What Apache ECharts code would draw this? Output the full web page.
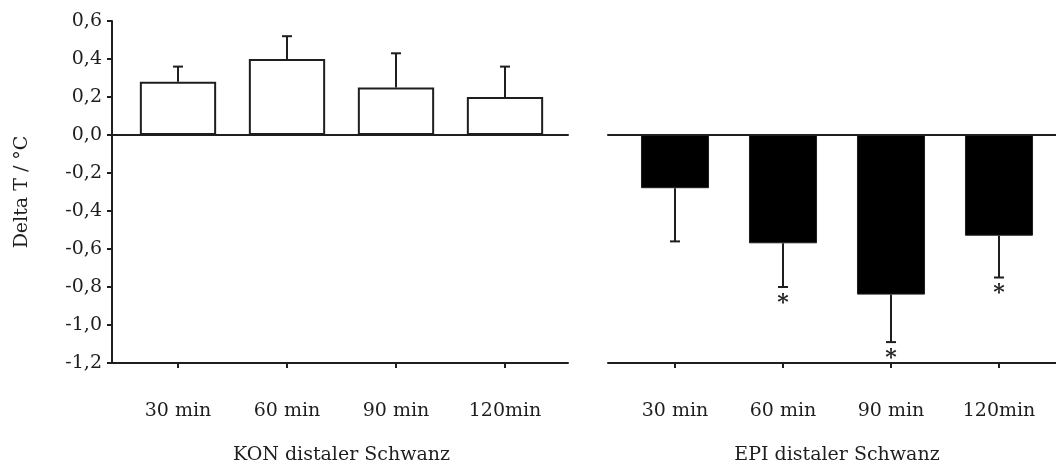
<!DOCTYPE html>
<html>
<head>
<meta charset="utf-8">
<script src="https://cdn.jsdelivr.net/npm/echarts@6/dist/echarts.min.js"></script>
<style>
  html, body { margin: 0; padding: 0; background: #fff; }
  #main { width: 1056px; height: 468px; }
</style>
</head>
<body>
<div id="main"></div>
<script>
// data
var categories = ['30 min', '60 min', '90 min', '120min'];
var konMean = [0.28, 0.40, 0.25, 0.20];
var konErr = [0.08, 0.12, 0.18, 0.16];
var epiMean = [-0.28, -0.57, -0.84, -0.53];
var epiErr = [0.28, 0.23, 0.25, 0.22];
var epiSig = [false, true, true, true];
var yTicks = [0.6, 0.4, 0.2, 0.0, -0.2, -0.4, -0.6, -0.8, -1.0, -1.2];

var ink = '#1e1e1e';
var font = 'DejaVu Serif';
var yMin = yTicks[yTicks.length - 1], yMax = yTicks[0];

function fmt(v) {
	return v.toFixed(1).replace('.', ',');
}

// error bar (+ optional asterisk) pointing away from zero
function errorBars(means, errs, sig) {
	return function (params, api) {
		var i = api.value(0);
		var m = means[i], e = errs[i];
		var base = api.coord([i, m]);
		var end = api.coord([i, m > 0 ? m + e : m - e]);
		var half = 5;
		var kids = [
			{ type: 'line', shape: { x1: base[0], y1: base[1], x2: end[0], y2: end[1] }, style: { stroke: ink, lineWidth: 2 } },
			{ type: 'line', shape: { x1: end[0] - half, y1: end[1], x2: end[0] + half, y2: end[1] }, style: { stroke: ink, lineWidth: 2 } }
		];
		if (sig && sig[i]) {
			kids.push({ type: 'text', x: end[0], y: end[1] + 5, style: { text: '*', fontFamily: font, fontSize: 22, fontWeight: 'bold', fill: ink, align: 'center', verticalAlign: 'top' } });
		}
		return { type: 'group', children: kids };
	};
}

var hiddenY = function (gi) {
	return { type: 'value', gridIndex: gi, min: yMin, max: yMax, interval: 0.2, show: false };
};

var catAxis = function (gi, name) {
	return {
		type: 'category', gridIndex: gi, data: categories, position: 'bottom',
		axisLine: { show: false, onZero: false },
		axisTick: { show: true, alignWithLabel: true, length: 5, lineStyle: { color: ink, width: 2 } },
		axisLabel: { color: ink, fontFamily: font, fontSize: 19, margin: 39 },
		name: name, nameLocation: 'middle', nameGap: 83,
		nameTextStyle: { color: ink, fontFamily: font, fontSize: 19 }
	};
};

var frameAxes = function (gi) {
	return [
		{ type: 'value', gridIndex: gi, min: 0, max: 1, position: 'bottom', axisLine: { show: true, onZero: false, lineStyle: { color: ink, width: 2 } }, axisTick: { show: false }, axisLabel: { show: false }, splitLine: { show: false } },
		{ type: 'value', gridIndex: gi, min: 0, max: 1, position: 'top', axisLine: { show: true, onZero: true, lineStyle: { color: ink, width: 2 } }, axisTick: { show: false }, axisLabel: { show: false }, splitLine: { show: false } }
	];
};

var grid = function (left, width) {
	return { left: left, width: width, top: 21, height: 342, outerBoundsMode: 'none', containLabel: false };
};

var chart = echarts.init(document.getElementById('main'));
chart.setOption({
	animation: false,
	backgroundColor: '#fff',
	grid: [
		grid(123.5, 436),   // KON bars
		grid(112, 456),     // KON frame
		grid(621, 432),     // EPI bars
		grid(608, 448)      // EPI frame
	],
	xAxis: [catAxis(0, 'KON distaler Schwanz')]
		.concat(frameAxes(1))
		.concat([catAxis(2, 'EPI distaler Schwanz')])
		.concat(frameAxes(3)),
	yAxis: [
		hiddenY(0),
		{
			type: 'value', gridIndex: 1, min: yMin, max: yMax, interval: 0.2,
			axisLine: { show: true, lineStyle: { color: ink, width: 2 } },
			axisTick: { show: true, length: 5, lineStyle: { color: ink, width: 2 } },
			axisLabel: { color: ink, fontFamily: font, fontSize: 19, margin: 10, formatter: fmt },
			splitLine: { show: false },
			name: 'Delta T / °C', nameLocation: 'middle', nameGap: 80,
			nameTextStyle: { color: ink, fontFamily: font, fontSize: 19 }
		},
		hiddenY(2),
		hiddenY(3)
	],
	series: [
		{
			type: 'bar', xAxisIndex: 0, yAxisIndex: 0, data: konMean, barWidth: '70%',
			itemStyle: { color: '#fff', borderColor: ink, borderWidth: 2 }, z: 3
		},
		{
			type: 'custom', xAxisIndex: 0, yAxisIndex: 0, data: konMean.map(function (v, i) { return [i, v]; }),
			renderItem: errorBars(konMean, konErr, null), z: 4
		},
		{
			type: 'bar', xAxisIndex: 3, yAxisIndex: 2, data: epiMean, barWidth: '63%',
			itemStyle: { color: '#000', borderColor: ink, borderWidth: 1 }, z: 3
		},
		{
			type: 'custom', xAxisIndex: 3, yAxisIndex: 2, data: epiMean.map(function (v, i) { return [i, v]; }),
			renderItem: errorBars(epiMean, epiErr, epiSig), z: 4
		}
	]
});
</script>
</body>
</html>
